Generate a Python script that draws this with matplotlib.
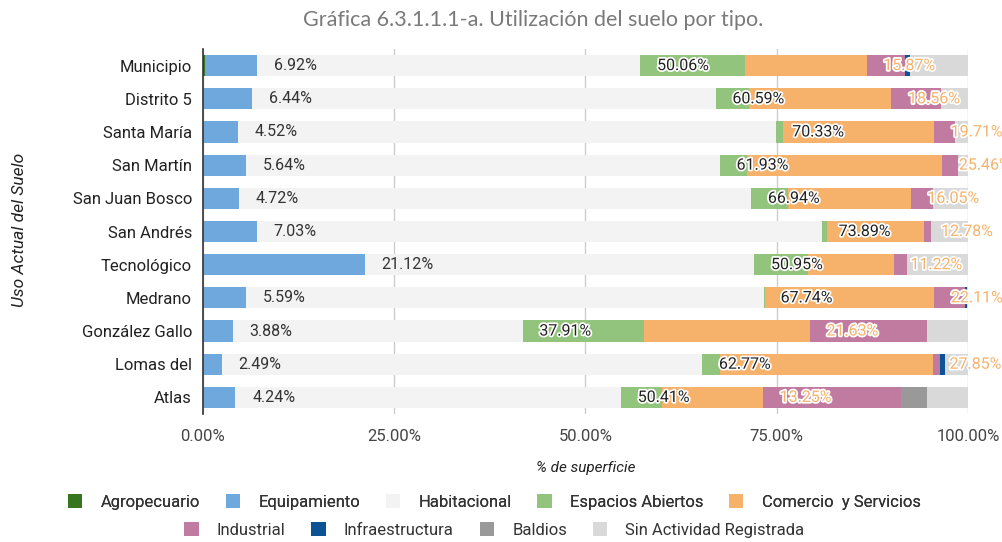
import matplotlib.pyplot as plt
import matplotlib.patheffects as pe
from matplotlib.patches import Patch
import numpy as np

plt.rcParams['font.family'] = ['Roboto', 'DejaVu Sans']

zonas = ['Municipio', 'Distrito 5', 'Santa María', 'San Martín', 'San Juan Bosco',
         'San Andrés', 'Tecnológico', 'Medrano', 'González Gallo', 'Lomas del', 'Atlas']

# porcentajes por tipo de uso (orden igual que zonas)
agropecuario = [0.2, 0, 0, 0, 0, 0, 0, 0, 0, 0, 0]
equipamiento = [6.92, 6.44, 4.52, 5.64, 4.72, 7.03, 21.12, 5.59, 3.88, 2.49, 4.24]
habitacional = [50.06, 60.59, 70.33, 61.93, 66.94, 73.89, 50.95, 67.74, 37.91, 62.77, 50.41]
espacios = [13.7, 4.4, 1.0, 3.6, 4.8, 0.6, 7.0, 0.15, 15.9, 2.3, 5.3]
comercio = [15.87, 18.56, 19.71, 25.46, 16.05, 12.78, 11.22, 22.11, 21.63, 27.85, 13.25]
industrial = [5.0, 6.5, 2.8, 2.0, 2.9, 0.8, 1.7, 4.0, 15.3, 0.9, 18.1]
infraestructura = [0.7, 0, 0, 0, 0, 0, 0, 0.3, 0, 0.7, 0]
baldios = [0, 0, 0, 0, 0, 0, 0, 0, 0, 0, 3.3]
sin_actividad = [7.55, 3.51, 1.64, 1.37, 4.59, 4.9, 8.01, 0.11, 5.38, 2.99, 5.4]

series = [
    ('Agropecuario', agropecuario, '#38761d'),
    ('Equipamiento', equipamiento, '#6fa8dc'),
    ('Habitacional', habitacional, '#f3f3f3'),
    ('Espacios Abiertos', espacios, '#93c47d'),
    ('Comercio  y Servicios', comercio, '#f6b26b'),
    ('Industrial', industrial, '#c27ba0'),
    ('Infraestructura', infraestructura, '#0b5394'),
    ('Baldios', baldios, '#999999'),
    ('Sin Actividad Registrada', sin_actividad, '#d9d9d9'),
]


def main():
    fig = plt.figure(figsize=(10.03, 5.42), dpi=100)
    ax = fig.add_axes([203 / 1003, 1 - 414 / 542, 765 / 1003, 365 / 542])

    y = np.arange(len(zonas))
    left = np.zeros(len(zonas))
    ends = {}
    for name, vals, color in series:
        vals = np.array(vals)
        ax.barh(y, vals, left=left, height=0.64, color=color, zorder=2)
        left = left + vals
        ends[name] = left.copy()

    # etiquetas de datos, justo despues del final de cada segmento
    halo = [pe.withStroke(linewidth=2.5, foreground='white')]
    for i in range(len(zonas)):
        ax.annotate('%.2f%%' % equipamiento[i], (ends['Equipamiento'][i], y[i]),
                    xytext=(12, 0), textcoords='offset points', va='center',
                    fontsize=11.5, color='#333333', zorder=5)
        ax.annotate('%.2f%%' % habitacional[i], (ends['Habitacional'][i], y[i]),
                    xytext=(12, 0), textcoords='offset points', va='center',
                    fontsize=11.5, color='#222222', zorder=5, path_effects=halo)
        # San Martín se sale del borde derecho, igual que en la original
        ax.annotate('%.2f%%' % comercio[i], (ends['Comercio  y Servicios'][i], y[i]),
                    xytext=(12, 0), textcoords='offset points', va='center',
                    fontsize=11.5, color='#f6b26b', zorder=5, path_effects=halo,
                    annotation_clip=False)

    ax.set_xlim(0, 100)
    ax.set_ylim(len(zonas) - 0.5, -0.5)
    ax.set_yticks(y)
    ax.set_yticklabels(zonas, fontsize=12, color='#222222')
    ticks = [0, 25, 50, 75, 100]
    ax.set_xticks(ticks)
    ax.set_xticklabels(['%.2f%%' % t for t in ticks], fontsize=12, color='#444444')
    ax.tick_params(length=0, pad=11)
    ax.tick_params(axis='y', pad=8)
    ax.grid(axis='x', color='#cccccc', linewidth=1, zorder=0)
    for s in ['top', 'right', 'bottom']:
        ax.spines[s].set_visible(False)
    ax.spines['left'].set_color('#333333')
    ax.spines['left'].set_linewidth(1.2)
    ax.spines['left'].set_zorder(4)

    ax.set_xlabel('% de superficie', fontsize=11, style='italic', color='#222222', labelpad=12)
    fig.text(0.019, 1 - 230 / 542, 'Uso Actual del Suelo', rotation=90, fontsize=12.5,
             style='italic', color='#222222', ha='center', va='center')

    fig.text(533 / 1003, 1 - 20 / 542, 'Gráfica 6.3.1.1.1-a. Utilización del suelo por tipo.',
             fontsize=15.5, color='#7a7a7a', ha='center', va='center',
             family=['Lato', 'DejaVu Sans'])

    handles = [Patch(facecolor=c, edgecolor='none', label=n) for n, v, c in series]
    opts = dict(frameon=False, fontsize=12, handlelength=0.85, handleheight=0.85,
                columnspacing=1.55, handletextpad=1.1, labelcolor='#333333')
    leg1 = fig.legend(handles=handles[:5], loc='center', bbox_to_anchor=(0.493, 1 - 502 / 542),
                      ncol=5, **opts)
    fig.add_artist(leg1)
    fig.legend(handles=handles[5:], loc='center', bbox_to_anchor=(0.493, 1 - 530 / 542),
               ncol=4, **opts)

    fig.savefig('out.png', dpi=100)


if __name__ == '__main__':
    main()
